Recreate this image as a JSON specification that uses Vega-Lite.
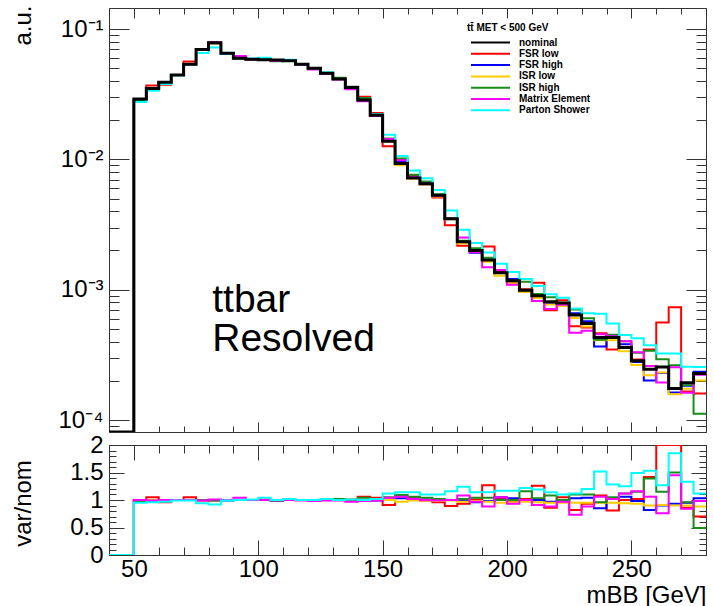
{
"$schema": "https://vega.github.io/schema/vega-lite/v6.json",
"background": "white",
"padding": {"left": 11, "top": 5, "right": 6, "bottom": 0},
"config": {
  "font": "Liberation Sans",
  "view": {"stroke": null},
  "axis": {"grid": false, "domainColor": "#333333", "tickColor": "#333333", "domainWidth": 1, "tickWidth": 1,
           "labelFont": "Liberation Sans", "titleFont": "Liberation Sans", "labelColor": "#000000", "titleColor": "#000000",
           "titleFontWeight": "normal", "labelFontSize": 24, "titleFontSize": 24, "labelOverlap": false, "labelFlush": false}
},
"datasets": {"h": [
{"s":"nominal","x":40,"y":0.000001},{"s":"nominal","x":50,"y":0.029},{"s":"nominal","x":55,"y":0.035},{"s":"nominal","x":60,"y":0.039},{"s":"nominal","x":65,"y":0.0444},{"s":"nominal","x":70,"y":0.0537},{"s":"nominal","x":75,"y":0.0697},{"s":"nominal","x":80,"y":0.0785},{"s":"nominal","x":85,"y":0.0653},{"s":"nominal","x":90,"y":0.0597},{"s":"nominal","x":95,"y":0.0587},{"s":"nominal","x":100,"y":0.058},{"s":"nominal","x":105,"y":0.0578},{"s":"nominal","x":110,"y":0.057},{"s":"nominal","x":115,"y":0.0537},{"s":"nominal","x":120,"y":0.05},{"s":"nominal","x":125,"y":0.0458},{"s":"nominal","x":130,"y":0.0414},{"s":"nominal","x":135,"y":0.0356},{"s":"nominal","x":140,"y":0.0285},{"s":"nominal","x":145,"y":0.0218},{"s":"nominal","x":150,"y":0.0138},{"s":"nominal","x":155,"y":0.0093},{"s":"nominal","x":160,"y":0.0072},{"s":"nominal","x":165,"y":0.0065},{"s":"nominal","x":170,"y":0.0053},{"s":"nominal","x":175,"y":0.0035},{"s":"nominal","x":180,"y":0.00233},{"s":"nominal","x":185,"y":0.002},{"s":"nominal","x":190,"y":0.00169},{"s":"nominal","x":195,"y":0.00135},{"s":"nominal","x":200,"y":0.00117},{"s":"nominal","x":205,"y":0.00099},{"s":"nominal","x":210,"y":0.0009},{"s":"nominal","x":215,"y":0.00081},{"s":"nominal","x":220,"y":0.00079},{"s":"nominal","x":225,"y":0.00064},{"s":"nominal","x":230,"y":0.00055},{"s":"nominal","x":235,"y":0.00043},{"s":"nominal","x":240,"y":0.00043},{"s":"nominal","x":245,"y":0.00036},{"s":"nominal","x":250,"y":0.000285},{"s":"nominal","x":255,"y":0.000245},{"s":"nominal","x":260,"y":0.000255},{"s":"nominal","x":265,"y":0.000175},{"s":"nominal","x":270,"y":0.000193},{"s":"nominal","x":275,"y":0.000228},{"s":"nominal","x":280,"y":0.000228},
{"s":"FSR low","x":40,"y":0.000001,"r":0},{"s":"FSR low","x":50,"y":0.029,"r":1.0},{"s":"FSR low","x":55,"y":0.0368,"r":1.05},{"s":"FSR low","x":60,"y":0.0374,"r":0.96},{"s":"FSR low","x":65,"y":0.0444,"r":1.0},{"s":"FSR low","x":70,"y":0.0564,"r":1.05},{"s":"FSR low","x":75,"y":0.069,"r":0.99},{"s":"FSR low","x":80,"y":0.0777,"r":0.99},{"s":"FSR low","x":85,"y":0.0653,"r":1.0},{"s":"FSR low","x":90,"y":0.0597,"r":1.0},{"s":"FSR low","x":95,"y":0.0587,"r":1.0},{"s":"FSR low","x":100,"y":0.0586,"r":1.01},{"s":"FSR low","x":105,"y":0.0578,"r":1.0},{"s":"FSR low","x":110,"y":0.057,"r":1.0},{"s":"FSR low","x":115,"y":0.0537,"r":1.0},{"s":"FSR low","x":120,"y":0.05,"r":1.0},{"s":"FSR low","x":125,"y":0.0458,"r":1.0},{"s":"FSR low","x":130,"y":0.0414,"r":1.0},{"s":"FSR low","x":135,"y":0.036,"r":1.01},{"s":"FSR low","x":140,"y":0.0302,"r":1.06},{"s":"FSR low","x":145,"y":0.0227,"r":1.04},{"s":"FSR low","x":150,"y":0.0126,"r":0.91},{"s":"FSR low","x":155,"y":0.00995,"r":1.07},{"s":"FSR low","x":160,"y":0.00749,"r":1.04},{"s":"FSR low","x":165,"y":0.00644,"r":0.99},{"s":"FSR low","x":170,"y":0.00509,"r":0.96},{"s":"FSR low","x":175,"y":0.00312,"r":0.89},{"s":"FSR low","x":180,"y":0.00217,"r":0.93},{"s":"FSR low","x":185,"y":0.00202,"r":1.01},{"s":"FSR low","x":190,"y":0.00215,"r":1.27},{"s":"FSR low","x":195,"y":0.00139,"r":1.03},{"s":"FSR low","x":200,"y":0.00115,"r":0.98},{"s":"FSR low","x":205,"y":0.00101,"r":1.02},{"s":"FSR low","x":210,"y":0.00113,"r":1.26},{"s":"FSR low","x":215,"y":0.000697,"r":0.86},{"s":"FSR low","x":220,"y":0.00083,"r":1.05},{"s":"FSR low","x":225,"y":0.000525,"r":0.82},{"s":"FSR low","x":230,"y":0.000512,"r":0.93},{"s":"FSR low","x":235,"y":0.000464,"r":1.08},{"s":"FSR low","x":240,"y":0.000348,"r":0.81},{"s":"FSR low","x":245,"y":0.00036,"r":1.0},{"s":"FSR low","x":250,"y":0.000291,"r":1.02},{"s":"FSR low","x":255,"y":0.000348,"r":1.42},{"s":"FSR low","x":260,"y":0.000561,"r":2.2},{"s":"FSR low","x":265,"y":0.000735,"r":4.2},{"s":"FSR low","x":270,"y":0.000166,"r":0.86},{"s":"FSR low","x":275,"y":0.00016,"r":0.7},{"s":"FSR low","x":280,"y":0.00016,"r":0.7},
{"s":"FSR high","x":40,"y":0.000001,"r":0},{"s":"FSR high","x":50,"y":0.029,"r":1.0},{"s":"FSR high","x":55,"y":0.035,"r":1.0},{"s":"FSR high","x":60,"y":0.039,"r":1.0},{"s":"FSR high","x":65,"y":0.0444,"r":1.0},{"s":"FSR high","x":70,"y":0.0537,"r":1.0},{"s":"FSR high","x":75,"y":0.0697,"r":1.0},{"s":"FSR high","x":80,"y":0.0785,"r":1.0},{"s":"FSR high","x":85,"y":0.0646,"r":0.99},{"s":"FSR high","x":90,"y":0.0597,"r":1.0},{"s":"FSR high","x":95,"y":0.0587,"r":1.0},{"s":"FSR high","x":100,"y":0.058,"r":1.0},{"s":"FSR high","x":105,"y":0.0578,"r":1.0},{"s":"FSR high","x":110,"y":0.057,"r":1.0},{"s":"FSR high","x":115,"y":0.0537,"r":1.0},{"s":"FSR high","x":120,"y":0.0495,"r":0.99},{"s":"FSR high","x":125,"y":0.0458,"r":1.0},{"s":"FSR high","x":130,"y":0.0414,"r":1.0},{"s":"FSR high","x":135,"y":0.0356,"r":1.0},{"s":"FSR high","x":140,"y":0.0285,"r":1.0},{"s":"FSR high","x":145,"y":0.0216,"r":0.99},{"s":"FSR high","x":150,"y":0.01394,"r":1.01},{"s":"FSR high","x":155,"y":0.00958,"r":1.03},{"s":"FSR high","x":160,"y":0.00734,"r":1.02},{"s":"FSR high","x":165,"y":0.00657,"r":1.01},{"s":"FSR high","x":170,"y":0.0053,"r":1.0},{"s":"FSR high","x":175,"y":0.0035,"r":1.0},{"s":"FSR high","x":180,"y":0.00228,"r":0.98},{"s":"FSR high","x":185,"y":0.00192,"r":0.96},{"s":"FSR high","x":190,"y":0.00166,"r":0.98},{"s":"FSR high","x":195,"y":0.00142,"r":1.05},{"s":"FSR high","x":200,"y":0.00121,"r":1.03},{"s":"FSR high","x":205,"y":0.00097,"r":0.98},{"s":"FSR high","x":210,"y":0.0009,"r":1.0},{"s":"FSR high","x":215,"y":0.000786,"r":0.97},{"s":"FSR high","x":220,"y":0.000774,"r":0.98},{"s":"FSR high","x":225,"y":0.000659,"r":1.03},{"s":"FSR high","x":230,"y":0.000572,"r":1.04},{"s":"FSR high","x":235,"y":0.000366,"r":0.85},{"s":"FSR high","x":240,"y":0.000439,"r":1.02},{"s":"FSR high","x":245,"y":0.000382,"r":1.06},{"s":"FSR high","x":250,"y":0.000279,"r":0.98},{"s":"FSR high","x":255,"y":0.000201,"r":0.82},{"s":"FSR high","x":260,"y":0.00023,"r":0.9},{"s":"FSR high","x":265,"y":0.000163,"r":0.93},{"s":"FSR high","x":270,"y":0.000183,"r":0.95},{"s":"FSR high","x":275,"y":0.000235,"r":1.03},{"s":"FSR high","x":280,"y":0.000235,"r":1.03},
{"s":"ISR low","x":40,"y":0.000001,"r":0},{"s":"ISR low","x":50,"y":0.029,"r":1.0},{"s":"ISR low","x":55,"y":0.035,"r":1.0},{"s":"ISR low","x":60,"y":0.039,"r":1.0},{"s":"ISR low","x":65,"y":0.0444,"r":1.0},{"s":"ISR low","x":70,"y":0.0537,"r":1.0},{"s":"ISR low","x":75,"y":0.0697,"r":1.0},{"s":"ISR low","x":80,"y":0.0785,"r":1.0},{"s":"ISR low","x":85,"y":0.0653,"r":1.0},{"s":"ISR low","x":90,"y":0.0597,"r":1.0},{"s":"ISR low","x":95,"y":0.0587,"r":1.0},{"s":"ISR low","x":100,"y":0.058,"r":1.0},{"s":"ISR low","x":105,"y":0.0578,"r":1.0},{"s":"ISR low","x":110,"y":0.057,"r":1.0},{"s":"ISR low","x":115,"y":0.0537,"r":1.0},{"s":"ISR low","x":120,"y":0.05,"r":1.0},{"s":"ISR low","x":125,"y":0.0458,"r":1.0},{"s":"ISR low","x":130,"y":0.0414,"r":1.0},{"s":"ISR low","x":135,"y":0.0356,"r":1.0},{"s":"ISR low","x":140,"y":0.0285,"r":1.0},{"s":"ISR low","x":145,"y":0.0218,"r":1.0},{"s":"ISR low","x":150,"y":0.0138,"r":1.0},{"s":"ISR low","x":155,"y":0.00902,"r":0.97},{"s":"ISR low","x":160,"y":0.00713,"r":0.99},{"s":"ISR low","x":165,"y":0.00644,"r":0.99},{"s":"ISR low","x":170,"y":0.00519,"r":0.98},{"s":"ISR low","x":175,"y":0.00347,"r":0.99},{"s":"ISR low","x":180,"y":0.00226,"r":0.97},{"s":"ISR low","x":185,"y":0.00196,"r":0.98},{"s":"ISR low","x":190,"y":0.00164,"r":0.97},{"s":"ISR low","x":195,"y":0.00128,"r":0.95},{"s":"ISR low","x":200,"y":0.00112,"r":0.96},{"s":"ISR low","x":205,"y":0.00096,"r":0.97},{"s":"ISR low","x":210,"y":0.000864,"r":0.96},{"s":"ISR low","x":215,"y":0.00077,"r":0.95},{"s":"ISR low","x":220,"y":0.00075,"r":0.95},{"s":"ISR low","x":225,"y":0.000608,"r":0.95},{"s":"ISR low","x":230,"y":0.000523,"r":0.95},{"s":"ISR low","x":235,"y":0.000409,"r":0.95},{"s":"ISR low","x":240,"y":0.000409,"r":0.95},{"s":"ISR low","x":245,"y":0.000338,"r":0.94},{"s":"ISR low","x":250,"y":0.000265,"r":0.93},{"s":"ISR low","x":255,"y":0.000221,"r":0.9},{"s":"ISR low","x":260,"y":0.000232,"r":0.91},{"s":"ISR low","x":265,"y":0.000158,"r":0.9},{"s":"ISR low","x":270,"y":0.000174,"r":0.9},{"s":"ISR low","x":275,"y":0.000201,"r":0.88},{"s":"ISR low","x":280,"y":0.000201,"r":0.88},
{"s":"ISR high","x":40,"y":0.000001,"r":0},{"s":"ISR high","x":50,"y":0.0284,"r":0.98},{"s":"ISR high","x":55,"y":0.0343,"r":0.98},{"s":"ISR high","x":60,"y":0.0386,"r":0.99},{"s":"ISR high","x":65,"y":0.0444,"r":1.0},{"s":"ISR high","x":70,"y":0.0537,"r":1.0},{"s":"ISR high","x":75,"y":0.0697,"r":1.0},{"s":"ISR high","x":80,"y":0.0777,"r":0.99},{"s":"ISR high","x":85,"y":0.0653,"r":1.0},{"s":"ISR high","x":90,"y":0.0597,"r":1.0},{"s":"ISR high","x":95,"y":0.0587,"r":1.0},{"s":"ISR high","x":100,"y":0.058,"r":1.0},{"s":"ISR high","x":105,"y":0.0566,"r":0.98},{"s":"ISR high","x":110,"y":0.057,"r":1.0},{"s":"ISR high","x":115,"y":0.0537,"r":1.0},{"s":"ISR high","x":120,"y":0.05,"r":1.0},{"s":"ISR high","x":125,"y":0.0458,"r":1.0},{"s":"ISR high","x":130,"y":0.0422,"r":1.02},{"s":"ISR high","x":135,"y":0.0356,"r":1.0},{"s":"ISR high","x":140,"y":0.0296,"r":1.04},{"s":"ISR high","x":145,"y":0.0222,"r":1.02},{"s":"ISR high","x":150,"y":0.01449,"r":1.05},{"s":"ISR high","x":155,"y":0.01014,"r":1.09},{"s":"ISR high","x":160,"y":0.00763,"r":1.06},{"s":"ISR high","x":165,"y":0.00676,"r":1.04},{"s":"ISR high","x":170,"y":0.00541,"r":1.02},{"s":"ISR high","x":175,"y":0.0035,"r":1.0},{"s":"ISR high","x":180,"y":0.00238,"r":1.02},{"s":"ISR high","x":185,"y":0.00208,"r":1.04},{"s":"ISR high","x":190,"y":0.00176,"r":1.04},{"s":"ISR high","x":195,"y":0.00135,"r":1.0},{"s":"ISR high","x":200,"y":0.00117,"r":1.0},{"s":"ISR high","x":205,"y":0.00115,"r":1.16},{"s":"ISR high","x":210,"y":0.000927,"r":1.03},{"s":"ISR high","x":215,"y":0.000875,"r":1.08},{"s":"ISR high","x":220,"y":0.00079,"r":1.0},{"s":"ISR high","x":225,"y":0.000704,"r":1.1},{"s":"ISR high","x":230,"y":0.000605,"r":1.1},{"s":"ISR high","x":235,"y":0.000413,"r":0.96},{"s":"ISR high","x":240,"y":0.000452,"r":1.05},{"s":"ISR high","x":245,"y":0.000403,"r":1.12},{"s":"ISR high","x":250,"y":0.000328,"r":1.15},{"s":"ISR high","x":255,"y":0.000341,"r":1.39},{"s":"ISR high","x":260,"y":0.000293,"r":1.15},{"s":"ISR high","x":265,"y":0.000263,"r":1.5},{"s":"ISR high","x":270,"y":0.000185,"r":0.96},{"s":"ISR high","x":275,"y":0.000112,"r":0.49},{"s":"ISR high","x":280,"y":0.000112,"r":0.49},
{"s":"Matrix Element","x":40,"y":0.000001,"r":0},{"s":"Matrix Element","x":50,"y":0.029,"r":1.0},{"s":"Matrix Element","x":55,"y":0.0347,"r":0.99},{"s":"Matrix Element","x":60,"y":0.039,"r":1.0},{"s":"Matrix Element","x":65,"y":0.0444,"r":1.0},{"s":"Matrix Element","x":70,"y":0.0537,"r":1.0},{"s":"Matrix Element","x":75,"y":0.069,"r":0.99},{"s":"Matrix Element","x":80,"y":0.0793,"r":1.01},{"s":"Matrix Element","x":85,"y":0.0653,"r":1.0},{"s":"Matrix Element","x":90,"y":0.0621,"r":1.04},{"s":"Matrix Element","x":95,"y":0.0587,"r":1.0},{"s":"Matrix Element","x":100,"y":0.058,"r":1.0},{"s":"Matrix Element","x":105,"y":0.0572,"r":0.99},{"s":"Matrix Element","x":110,"y":0.057,"r":1.0},{"s":"Matrix Element","x":115,"y":0.0532,"r":0.99},{"s":"Matrix Element","x":120,"y":0.049,"r":0.98},{"s":"Matrix Element","x":125,"y":0.0453,"r":0.99},{"s":"Matrix Element","x":130,"y":0.041,"r":0.99},{"s":"Matrix Element","x":135,"y":0.0345,"r":0.97},{"s":"Matrix Element","x":140,"y":0.0279,"r":0.98},{"s":"Matrix Element","x":145,"y":0.0216,"r":0.99},{"s":"Matrix Element","x":150,"y":0.01435,"r":1.04},{"s":"Matrix Element","x":155,"y":0.00986,"r":1.06},{"s":"Matrix Element","x":160,"y":0.00734,"r":1.02},{"s":"Matrix Element","x":165,"y":0.0065,"r":1.0},{"s":"Matrix Element","x":170,"y":0.00525,"r":0.99},{"s":"Matrix Element","x":175,"y":0.0035,"r":1.0},{"s":"Matrix Element","x":180,"y":0.00252,"r":1.08},{"s":"Matrix Element","x":185,"y":0.00194,"r":0.97},{"s":"Matrix Element","x":190,"y":0.00149,"r":0.88},{"s":"Matrix Element","x":195,"y":0.00142,"r":1.05},{"s":"Matrix Element","x":200,"y":0.00109,"r":0.93},{"s":"Matrix Element","x":205,"y":0.00099,"r":1.0},{"s":"Matrix Element","x":210,"y":0.000819,"r":0.91},{"s":"Matrix Element","x":215,"y":0.000713,"r":0.88},{"s":"Matrix Element","x":220,"y":0.000766,"r":0.97},{"s":"Matrix Element","x":225,"y":0.000467,"r":0.73},{"s":"Matrix Element","x":230,"y":0.000484,"r":0.88},{"s":"Matrix Element","x":235,"y":0.000456,"r":1.06},{"s":"Matrix Element","x":240,"y":0.000439,"r":1.02},{"s":"Matrix Element","x":245,"y":0.000403,"r":1.12},{"s":"Matrix Element","x":250,"y":0.000331,"r":1.16},{"s":"Matrix Element","x":255,"y":0.00026,"r":1.06},{"s":"Matrix Element","x":260,"y":0.000194,"r":0.76},{"s":"Matrix Element","x":265,"y":0.000254,"r":1.45},{"s":"Matrix Element","x":270,"y":0.000162,"r":0.84},{"s":"Matrix Element","x":275,"y":0.000223,"r":0.98},{"s":"Matrix Element","x":280,"y":0.000223,"r":0.98},
{"s":"Parton Shower","x":40,"y":0.000001,"r":0},{"s":"Parton Shower","x":50,"y":0.0276,"r":0.95},{"s":"Parton Shower","x":55,"y":0.0336,"r":0.96},{"s":"Parton Shower","x":60,"y":0.0378,"r":0.97},{"s":"Parton Shower","x":65,"y":0.044,"r":0.99},{"s":"Parton Shower","x":70,"y":0.0532,"r":0.99},{"s":"Parton Shower","x":75,"y":0.0655,"r":0.94},{"s":"Parton Shower","x":80,"y":0.0722,"r":0.92},{"s":"Parton Shower","x":85,"y":0.0646,"r":0.99},{"s":"Parton Shower","x":90,"y":0.0597,"r":1.0},{"s":"Parton Shower","x":95,"y":0.0593,"r":1.01},{"s":"Parton Shower","x":100,"y":0.0603,"r":1.04},{"s":"Parton Shower","x":105,"y":0.0578,"r":1.0},{"s":"Parton Shower","x":110,"y":0.0581,"r":1.02},{"s":"Parton Shower","x":115,"y":0.0537,"r":1.0},{"s":"Parton Shower","x":120,"y":0.05,"r":1.0},{"s":"Parton Shower","x":125,"y":0.0467,"r":1.02},{"s":"Parton Shower","x":130,"y":0.0414,"r":1.0},{"s":"Parton Shower","x":135,"y":0.036,"r":1.01},{"s":"Parton Shower","x":140,"y":0.0285,"r":1.0},{"s":"Parton Shower","x":145,"y":0.0222,"r":1.02},{"s":"Parton Shower","x":150,"y":0.01546,"r":1.12},{"s":"Parton Shower","x":155,"y":0.0106,"r":1.14},{"s":"Parton Shower","x":160,"y":0.00821,"r":1.14},{"s":"Parton Shower","x":165,"y":0.00715,"r":1.1},{"s":"Parton Shower","x":170,"y":0.00583,"r":1.1},{"s":"Parton Shower","x":175,"y":0.00406,"r":1.16},{"s":"Parton Shower","x":180,"y":0.00289,"r":1.24},{"s":"Parton Shower","x":185,"y":0.00228,"r":1.14},{"s":"Parton Shower","x":190,"y":0.00193,"r":1.14},{"s":"Parton Shower","x":195,"y":0.00158,"r":1.17},{"s":"Parton Shower","x":200,"y":0.00137,"r":1.17},{"s":"Parton Shower","x":205,"y":0.00121,"r":1.22},{"s":"Parton Shower","x":210,"y":0.00107,"r":1.19},{"s":"Parton Shower","x":215,"y":0.000923,"r":1.14},{"s":"Parton Shower","x":220,"y":0.000869,"r":1.1},{"s":"Parton Shower","x":225,"y":0.000717,"r":1.12},{"s":"Parton Shower","x":230,"y":0.00066,"r":1.2},{"s":"Parton Shower","x":235,"y":0.000654,"r":1.52},{"s":"Parton Shower","x":240,"y":0.00055,"r":1.28},{"s":"Parton Shower","x":245,"y":0.00045,"r":1.25},{"s":"Parton Shower","x":250,"y":0.000425,"r":1.49},{"s":"Parton Shower","x":255,"y":0.000375,"r":1.53},{"s":"Parton Shower","x":260,"y":0.000324,"r":1.27},{"s":"Parton Shower","x":265,"y":0.000324,"r":1.85},{"s":"Parton Shower","x":270,"y":0.000257,"r":1.33},{"s":"Parton Shower","x":275,"y":0.000255,"r":1.12},{"s":"Parton Shower","x":280,"y":0.000255,"r":1.12}
]},
"spacing": 13,
"bounds": "flush",
"vconcat": [
{
  "width": 597, "height": 424,
  "data": {"name": "h"},
  "layer": [
    {
      "transform": [{"filter": "datum.s != 'nominal'"}],
      "mark": {"type": "line", "interpolate": "step-after", "strokeWidth": 2, "clip": true},
      "encoding": {
        "x": {"field": "x", "type": "quantitative",
              "scale": {"domain": [40, 280], "nice": false, "zero": false},
              "axis": {"orient": "bottom", "values": [40,50,60,70,80,90,100,110,120,130,140,150,160,170,180,190,200,210,220,230,240,250,260,270,280],
                       "labels": false, "title": null,
                       "tickSize": {"condition": {"test": "datum.value % 50 == 0", "value": -10}, "value": -6}}},
        "y": {"field": "y", "type": "quantitative",
              "scale": {"type": "log", "domain": [0.000081, 0.145], "nice": false, "clamp": true},
              "axis": {"orient": "left",
                       "values": [0.00009,0.0001,0.0002,0.0003,0.0004,0.0005,0.0006,0.0007,0.0008,0.0009,0.001,0.002,0.003,0.004,0.005,0.006,0.007,0.008,0.009,0.01,0.02,0.03,0.04,0.05,0.06,0.07,0.08,0.09,0.1],
                       "labelExpr": "datum.value == 0.1 ? '10⁻¹' : datum.value == 0.01 ? '10⁻²' : datum.value == 0.001 ? '10⁻³' : datum.value == 0.0001 ? '10⁻⁴' : ''",
                       "tickSize": {"condition": {"test": "datum.value == 0.1 || datum.value == 0.01 || datum.value == 0.001 || datum.value == 0.0001", "value": -20}, "value": -10},
                       "labelPadding": 26,
                       "title": "a.u.", "titleAngle": 270, "titleX": -79, "titleY": -3, "titleAlign": "right", "titleBaseline": "alphabetic"}},
        "color": {"field": "s", "type": "nominal",
                  "scale": {"domain": ["nominal","FSR low","FSR high","ISR low","ISR high","Matrix Element","Parton Shower"],
                            "range": ["#000000","#ff0000","#0000ff","#ffcc00","#1a8c1a","#ff00ff","#00ffff"]},
                  "legend": {"orient": "none", "legendX": 358, "legendY": 14.5, "title": "tt̄ MET < 500 GeV",
                             "titleFont": "Liberation Sans", "titleFontSize": 10, "titleFontWeight": "bold", "titleColor": "#000000", "titlePadding": 4,
                             "labelFont": "Liberation Sans", "labelFontSize": 10, "labelFontWeight": "bold", "labelColor": "#000000",
                             "symbolType": "M-0.4,0L7.4,0", "symbolSize": 100, "symbolStrokeWidth": 2, "labelOffset": 40, "rowPadding": 0.3, "padding": 0}}
      }
    },
    {
      "transform": [{"filter": "datum.s == 'nominal'"}],
      "mark": {"type": "line", "interpolate": "step-after", "strokeWidth": 3, "clip": true},
      "encoding": {
        "x": {"field": "x", "type": "quantitative",
              "axis": {"orient": "top", "values": [40,50,60,70,80,90,100,110,120,130,140,150,160,170,180,190,200,210,220,230,240,250,260,270,280],
                       "labels": false, "title": null,
                       "tickSize": {"condition": {"test": "datum.value % 50 == 0", "value": -10}, "value": -6}}},
        "y": {"field": "y", "type": "quantitative",
              "axis": {"orient": "right",
                       "values": [0.00009,0.0001,0.0002,0.0003,0.0004,0.0005,0.0006,0.0007,0.0008,0.0009,0.001,0.002,0.003,0.004,0.005,0.006,0.007,0.008,0.009,0.01,0.02,0.03,0.04,0.05,0.06,0.07,0.08,0.09,0.1],
                       "labels": false, "title": null,
                       "tickSize": {"condition": {"test": "datum.value == 0.1 || datum.value == 0.01 || datum.value == 0.001 || datum.value == 0.0001", "value": -20}, "value": -10}}},
        "color": {"field": "s", "type": "nominal", "legend": null}
      }
    },
    {
      "data": {"values": [{"note": "label"}]},
      "mark": {"type": "text", "align": "left", "baseline": "alphabetic", "fontSize": 39, "lineHeight": 39, "font": "Liberation Sans", "color": "#000000"},
      "encoding": {
        "x": {"datum": 81.5, "type": "quantitative", "axis": null},
        "y": {"datum": 0.00068, "type": "quantitative", "axis": null},
        "text": {"value": ["ttbar", "Resolved"]}
      }
    }
  ],
  "resolve": {"axis": {"x": "independent", "y": "independent"}}
},
{
  "width": 597, "height": 110,
  "data": {"name": "h"},
  "transform": [{"filter": "datum.s != 'nominal'"}],
  "layer": [
    {
      "transform": [{"filter": "datum.s != 'Parton Shower'"}],
      "mark": {"type": "line", "interpolate": "step-after", "strokeWidth": 2, "clip": true},
      "encoding": {
        "x": {"field": "x", "type": "quantitative",
              "scale": {"domain": [40, 280], "nice": false, "zero": false},
              "axis": {"orient": "bottom", "values": [40,50,60,70,80,90,100,110,120,130,140,150,160,170,180,190,200,210,220,230,240,250,260,270,280],
                       "labelExpr": "datum.value % 50 == 0 ? datum.value : ''",
                       "tickSize": {"condition": {"test": "datum.value % 50 == 0", "value": -15}, "value": -8},
                       "labelPadding": 17,
                       "title": "mBB [GeV]", "titleX": 597, "titleY": 47, "titleAlign": "right", "titleBaseline": "alphabetic"}},
        "y": {"field": "r", "type": "quantitative",
              "scale": {"domain": [0, 2], "nice": false, "clamp": true},
              "axis": {"orient": "left",
                       "values": [0,0.1,0.2,0.3,0.4,0.5,0.6,0.7,0.8,0.9,1,1.1,1.2,1.3,1.4,1.5,1.6,1.7,1.8,1.9,2],
                       "labelExpr": "datum.value == 0 ? '0' : datum.value == 0.5 ? '0.5' : datum.value == 1 ? '1' : datum.value == 1.5 ? '1.5' : datum.value == 2 ? '2' : ''",
                       "tickSize": {"condition": {"test": "datum.value == 0 || datum.value == 0.5 || datum.value == 1 || datum.value == 1.5 || datum.value == 2", "value": -15}, "value": -7},
                       "labelPadding": 21,
                       "title": "var/nom", "titleAngle": 270, "titleX": -79, "titleY": 58, "titleAlign": "center", "titleBaseline": "alphabetic"}},
        "color": {"field": "s", "type": "nominal", "legend": null}
      }
    },
    {
      "transform": [{"filter": "datum.s == 'Parton Shower'"}],
      "mark": {"type": "line", "interpolate": "step-after", "strokeWidth": 2, "clip": true},
      "encoding": {
        "x": {"field": "x", "type": "quantitative",
              "axis": {"orient": "top", "values": [40,50,60,70,80,90,100,110,120,130,140,150,160,170,180,190,200,210,220,230,240,250,260,270,280],
                       "labels": false, "title": null,
                       "tickSize": {"condition": {"test": "datum.value % 50 == 0", "value": -15}, "value": -8}}},
        "y": {"field": "r", "type": "quantitative",
              "axis": {"orient": "right",
                       "values": [0,0.1,0.2,0.3,0.4,0.5,0.6,0.7,0.8,0.9,1,1.1,1.2,1.3,1.4,1.5,1.6,1.7,1.8,1.9,2],
                       "labels": false, "title": null,
                       "tickSize": {"condition": {"test": "datum.value == 0 || datum.value == 0.5 || datum.value == 1 || datum.value == 1.5 || datum.value == 2", "value": -15}, "value": -7}}},
        "color": {"field": "s", "type": "nominal", "legend": null}
      }
    }
  ],
  "resolve": {"axis": {"x": "independent", "y": "independent"}}
}
]
}
